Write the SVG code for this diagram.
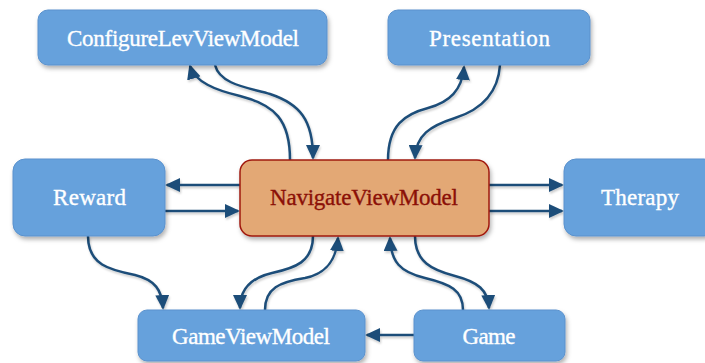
<svg xmlns="http://www.w3.org/2000/svg" width="705" height="363" viewBox="0 0 705 363">
  <defs>
    <filter id="shadow" x="-10%" y="-20%" width="130%" height="150%">
      <feDropShadow dx="1.5" dy="3" stdDeviation="2" flood-color="#000" flood-opacity="0.3"/>
    </filter>
    <filter id="lineShadow" x="-20%" y="-20%" width="140%" height="140%">
      <feDropShadow dx="1" dy="2" stdDeviation="1.2" flood-color="#000" flood-opacity="0.2"/>
    </filter>
    <marker id="arrow" viewBox="0 0 15 14" refX="13" refY="7" markerWidth="15" markerHeight="14" markerUnits="userSpaceOnUse" orient="auto">
      <path d="M0,0 L15,7 L0,14 z" fill="#1F4E79"/>
    </marker>
  </defs>
  <style>
    .box { fill: #66A1DC; stroke: #5A91CD; stroke-width: 1; filter: url(#shadow); }
    .hub { fill: #E3A874; stroke: #A0180E; stroke-width: 1.5; filter: url(#shadow); }
    .label { font-family: "Liberation Serif", "Times New Roman", serif; font-size: 23px; fill: #FFFFFF; stroke: #FFFFFF; stroke-width: 0.35; text-anchor: middle; }
    .hub-label { fill: #8B1007; stroke: #8B1007; }
    .conn path { fill: none; stroke: #1F4E79; stroke-width: 2.5; marker-end: url(#arrow); }
  </style>

  <g id="connectors" class="conn" filter="url(#lineShadow)">
    <!-- NavigateViewModel <-> ConfigureLevViewModel -->
    <path d="M290,160 C290,120 275,105 240,96 C215,90 195,82 190,66"/>
    <path d="M215,65 C220,85 250,88 270,94 C300,104 313,120 313,158"/>
    <!-- NavigateViewModel <-> Presentation -->
    <path d="M388,160 C388,125 405,114 428,108 C450,102 462,90 464,67"/>
    <path d="M500,65 C498,95 480,110 455,118 C430,126 416,135 415,158"/>
    <!-- NavigateViewModel <-> Reward -->
    <path d="M240,185 L167,185"/>
    <path d="M165,211 L238,211"/>
    <!-- NavigateViewModel -> Therapy -->
    <path d="M489,185 L562,185"/>
    <path d="M489,211 L562,211"/>
    <!-- Reward -> GameViewModel -->
    <path d="M88,236 C88,265 110,270 135,275 C155,280 162,290 163,308"/>
    <!-- NavigateViewModel <-> GameViewModel -->
    <path d="M313,236 C313,262 295,268 272,273 C250,278 240,290 240,308"/>
    <path d="M265,310 C265,288 280,282 305,278 C325,274 336,262 338,238"/>
    <!-- NavigateViewModel <-> Game -->
    <path d="M463,310 C463,290 450,284 425,278 C400,272 391,262 390,238"/>
    <path d="M415,236 C415,262 432,270 455,276 C478,282 488,290 489,308"/>
    <!-- Game -> GameViewModel -->
    <path d="M414,335 L367,335"/>
  </g>

  <g id="configure-lev-view-model">
    <rect class="box" x="38" y="10" width="289" height="55" rx="10"/>
    <text class="label" x="183" y="46" textLength="232">ConfigureLevViewModel</text>
  </g>
  <g id="presentation">
    <rect class="box" x="388" y="10" width="202" height="55" rx="10"/>
    <text class="label" x="489.5" y="46" textLength="121">Presentation</text>
  </g>
  <g id="reward">
    <rect class="box" x="13" y="159" width="152" height="77" rx="12"/>
    <text class="label" x="89.5" y="205" textLength="73">Reward</text>
  </g>
  <g id="navigate-view-model">
    <rect class="hub" x="240" y="160" width="249" height="76" rx="12"/>
    <text class="label hub-label" x="364" y="205" textLength="188">NavigateViewModel</text>
  </g>
  <g id="therapy">
    <rect class="box" x="564" y="159" width="152" height="77" rx="12"/>
    <text class="label" x="640" y="205" textLength="78">Therapy</text>
  </g>
  <g id="game-view-model">
    <rect class="box" x="138" y="310" width="227" height="51" rx="9"/>
    <text class="label" x="251" y="344" textLength="158">GameViewModel</text>
  </g>
  <g id="game">
    <rect class="box" x="414" y="310" width="151" height="51" rx="9"/>
    <text class="label" x="489" y="344" textLength="53">Game</text>
  </g>
</svg>
